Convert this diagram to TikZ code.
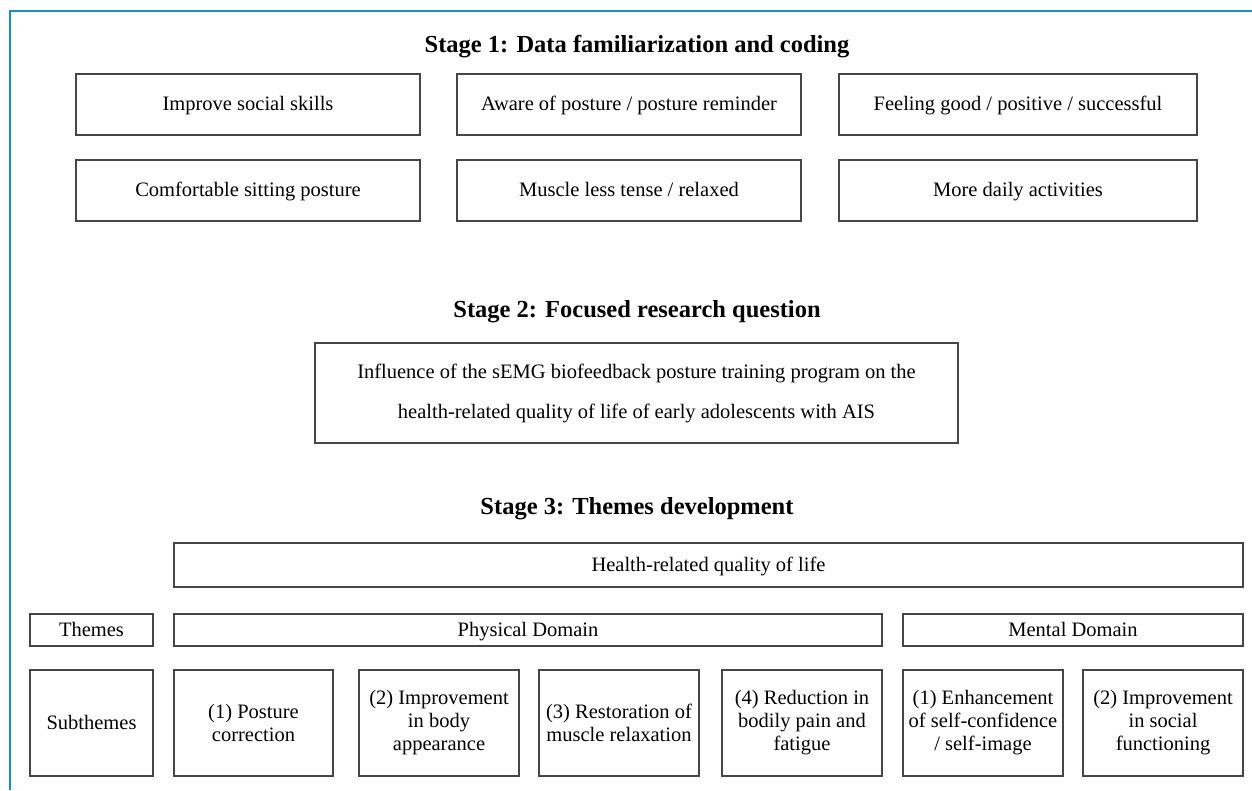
\documentclass[tikz,border=0pt]{standalone}
\usepackage{fontspec}
\setmainfont{Liberation Serif}
\definecolor{framebl}{RGB}{26,140,204}
\definecolor{boxgray}{RGB}{70,70,70}

\begin{document}
\begin{tikzpicture}[x=1pt, y=-1pt]
\tikzset{box/.style = {draw=boxgray, line width=1.3pt, align=center, inner sep=2pt, font=\fontsize{20.5}{23}\selectfont}}
\tikzset{oneline/.style = {text height=15pt, text depth=3pt}}
\tikzset{row/.style = {box, oneline, minimum height=61pt}}
\tikzset{dom/.style = {box, oneline, minimum height=32pt}}
\tikzset{sub/.style = {box, minimum width=160pt, minimum height=106pt}}
\tikzset{stage/.style = {font=\fontsize{24.5}{28}\selectfont\bfseries}}

\useasboundingbox (0,0) rectangle (1252,790);
\path[draw=framebl, line width=2.2pt] (10,790) -- (10,11) -- (1252,11);

% stage 1
\node[stage] (st1) at (637,47) {Stage 1: Data familiarization and coding};
\node[row, minimum width=344pt] (social) at (248,104.5) {Improve social skills};
\node[row, minimum width=344pt] (aware) at (629,104.5) {Aware of posture / posture reminder};
\node[row, minimum width=358pt] (good) at (1018,104.5) {Feeling good / positive / successful};
\node[row, minimum width=344pt] (sit) at (248,190.5) {Comfortable sitting posture};
\node[row, minimum width=344pt] (tense) at (629,190.5) {Muscle less tense / relaxed};
\node[row, minimum width=358pt] (daily) at (1018,190.5) {More daily activities};

% stage 2
\node[stage] (st2) at (637,312) {Stage 2: Focused research question};
\node[box, minimum width=643pt, minimum height=100pt, font=\fontsize{20.5}{40}\selectfont] (quest) at (636.5,393)
  {Influence of the sEMG biofeedback posture training program on the\\health-related quality of life of early adolescents with AIS};

% stage 3
\node[stage] (st3) at (637,509) {Stage 3: Themes development};
\node[box, oneline, minimum width=1069pt, minimum height=44pt] (hrql) at (708.5,565) {Health-related quality of life};
\node[dom, minimum width=123pt] (themes) at (91.5,630) {Themes};
\node[dom, minimum width=708pt] (phys) at (528,630) {Physical Domain};
\node[dom, minimum width=340pt] (ment) at (1073,630) {Mental Domain};

\node[sub, oneline, minimum width=123pt] (subth) at (91.5,723) {Subthemes};
\node[sub, minimum width=159pt] (p1) at (253.5,723) {(1) Posture\\correction};
\node[sub] (p2) at (439,723) {(2) Improvement\\in body\\appearance};
\node[sub] (p3) at (619,723) {(3) Restoration of\\muscle relaxation};
\node[sub] (p4) at (802,723) {(4) Reduction in\\bodily pain and\\fatigue};
\node[sub] (m1) at (983,723) {(1) Enhancement\\of self-confidence\\/ self-image};
\node[sub] (m2) at (1163,723) {(2) Improvement\\in social\\functioning};
\end{tikzpicture}
\end{document}
